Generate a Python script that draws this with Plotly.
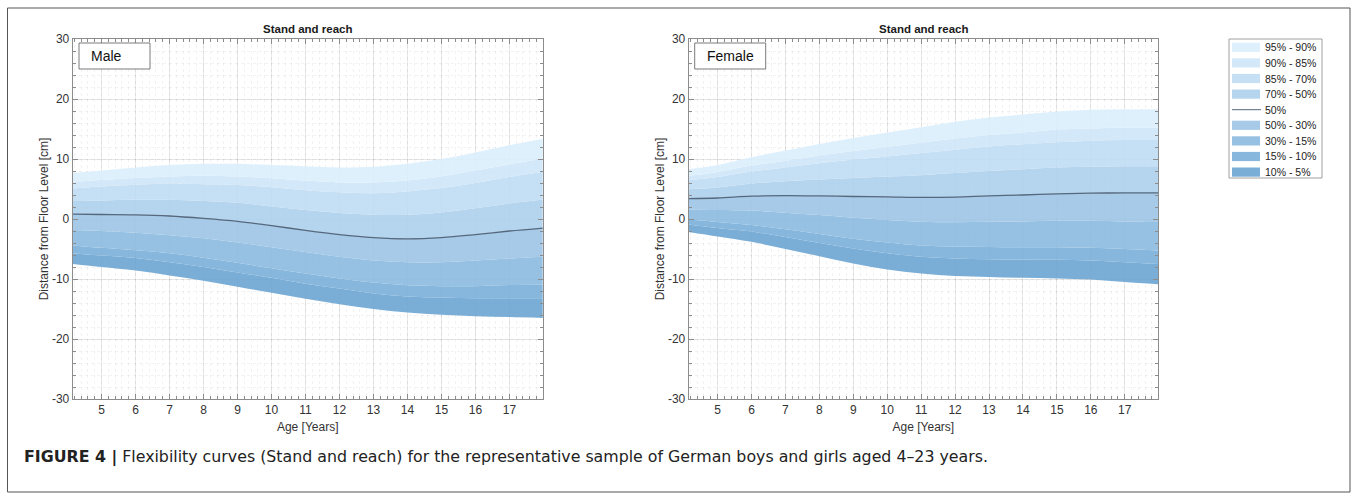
import plotly.graph_objects as go

# ---------------- data ----------------
ages = [4.15, 5, 6, 7, 8, 9, 10, 11, 12, 13, 14, 15, 16, 17, 18]

male_p5 = [-7.5, -8.0, -8.6, -9.4, -10.3, -11.3, -12.3, -13.3, -14.2, -15.0, -15.6, -15.95, -16.2, -16.35, -16.5]
male_p10 = [-5.7, -6.1, -6.5, -7.2, -8.0, -8.9, -9.8, -10.8, -11.6, -12.4, -12.9, -13.1, -13.2, -13.2, -13.2]
male_p15 = [-4.4, -4.8, -5.2, -5.7, -6.45, -7.3, -8.2, -9.1, -9.9, -10.6, -11.05, -11.2, -11.2, -11.0, -10.95]
male_p30 = [-1.85, -2.0, -2.3, -2.7, -3.2, -3.9, -4.7, -5.5, -6.3, -6.9, -7.2, -7.2, -6.9, -6.6, -6.3]
male_p50 = [0.8, 0.75, 0.7, 0.5, 0.1, -0.4, -1.1, -1.9, -2.6, -3.1, -3.3, -3.1, -2.6, -2.0, -1.5]
male_p70 = [3.0, 3.1, 3.2, 3.2, 3.0, 2.7, 2.1, 1.5, 1.0, 0.7, 0.7, 1.1, 1.8, 2.6, 3.25]
male_p85 = [5.1, 5.4, 5.7, 5.9, 5.8, 5.65, 5.3, 4.8, 4.45, 4.3, 4.6, 5.15, 6.0, 7.0, 7.9]
male_p90 = [6.2, 6.5, 6.85, 7.1, 7.2, 7.1, 6.8, 6.4, 6.1, 6.1, 6.4, 7.1, 8.1, 9.1, 10.1]
male_p95 = [7.7, 8.1, 8.6, 9.0, 9.2, 9.2, 9.0, 8.8, 8.6, 8.7, 9.2, 10.0, 11.1, 12.3, 13.4]

female_p5 = [-2.15, -2.9, -3.8, -5.0, -6.2, -7.4, -8.4, -9.1, -9.5, -9.65, -9.8, -9.9, -10.1, -10.5, -10.9]
female_p10 = [-0.9, -1.5, -2.1, -3.0, -4.0, -4.9, -5.7, -6.3, -6.6, -6.7, -6.75, -6.8, -6.9, -7.2, -7.5]
female_p15 = [-0.1, -0.5, -1.0, -1.7, -2.5, -3.3, -3.9, -4.4, -4.6, -4.65, -4.7, -4.7, -4.8, -5.0, -5.25]
female_p30 = [1.6, 1.5, 1.4, 1.05, 0.65, 0.2, -0.15, -0.45, -0.55, -0.45, -0.4, -0.3, -0.3, -0.4, -0.5]
female_p50 = [3.4, 3.5, 3.8, 3.9, 3.85, 3.75, 3.7, 3.6, 3.65, 3.85, 4.0, 4.2, 4.3, 4.35, 4.35]
female_p70 = [4.95, 5.25, 5.9, 6.3, 6.6, 6.85, 7.1, 7.3, 7.65, 8.0, 8.3, 8.6, 8.7, 8.8, 8.8]
female_p85 = [6.5, 7.0, 7.9, 8.6, 9.3, 9.9, 10.4, 11.0, 11.55, 12.1, 12.45, 12.8, 13.05, 13.15, 13.15]
female_p90 = [7.2, 7.8, 8.9, 9.7, 10.6, 11.35, 12.0, 12.7, 13.4, 14.0, 14.4, 14.9, 15.1, 15.2, 15.2]
female_p95 = [8.3, 9.0, 10.3, 11.4, 12.5, 13.5, 14.4, 15.3, 16.2, 16.9, 17.4, 17.9, 18.2, 18.3, 18.3]

x_tick_vals = [5, 6, 7, 8, 9, 10, 11, 12, 13, 14, 15, 16, 17]
y_tick_vals = [-30, -20, -10, 0, 10, 20, 30]
y_tick_text = ["-30", "-20", "-10", "0", "10", "20", "30"]

band_labels = ["10% - 5%", "15% - 10%", "30% - 15%", "50% - 30%",
               "70% - 50%", "85% - 70%", "90% - 85%", "95% - 90%"]
median_label = "50%"
panel_labels = ["Male", "Female"]
panel_title = "Stand and reach"
x_title = "Age [Years]"
y_title = "Distance from Floor Level [cm]"
caption_bold = "FIGURE 4 |"
caption_text = "Flexibility curves (Stand and reach) for the representative sample of German boys and girls aged 4–23 years."

# ---------------- styles ----------------
band_colors = [(122, 174, 215), (135, 183, 221), (151, 193, 227), (166, 202, 232),
               (181, 212, 238), (197, 223, 244), (211, 232, 249), (223, 240, 253)]
ALPHA = 0.9


def rgba(c, a=ALPHA):
    base = [max(0, round(255 - (255 - v) / a)) for v in c]
    return f"rgba({base[0]},{base[1]},{base[2]},{a})"


def solid(c):
    return f"rgb({c[0]},{c[1]},{c[2]})"


median_color = "rgb(85,104,124)"
FONT = "Liberation Sans, Arial, Helvetica, sans-serif"
CAP_FONT = "DejaVu Sans, Liberation Sans, sans-serif"
W, H = 1357, 500


def px(x):
    return x / W


def py(y):
    return 1 - y / H


fig = go.Figure()

panels = [
    ("x", "y", [male_p5, male_p10, male_p15, male_p30, male_p50, male_p70, male_p85, male_p90, male_p95]),
    ("x2", "y2", [female_p5, female_p10, female_p15, female_p30, female_p50, female_p70, female_p85, female_p90, female_p95]),
]

for xa, ya, curves in panels:
    fig.add_trace(go.Scatter(x=ages, y=curves[0], mode="lines", line=dict(width=0, shape="spline"),
                             xaxis=xa, yaxis=ya, showlegend=False, hoverinfo="skip"))
    for i in range(1, len(curves)):
        fig.add_trace(go.Scatter(x=ages, y=curves[i], mode="lines", fill="tonexty",
                                 fillcolor=rgba(band_colors[i - 1]),
                                 line=dict(width=0, shape="spline"),
                                 name=band_labels[i - 1], xaxis=xa, yaxis=ya,
                                 showlegend=False))
    fig.add_trace(go.Scatter(x=ages, y=curves[4], mode="lines",
                             line=dict(width=1.3, color=median_color, shape="spline"),
                             name=median_label, xaxis=xa, yaxis=ya, showlegend=False))

axis_col = "#8c8c8c"
txt_col = "#333333"
tick_font = dict(family=FONT, size=12, color=txt_col)
common = dict(showline=True, linecolor=axis_col, linewidth=1, mirror="allticks",
              ticks="inside", ticklen=5, tickcolor=axis_col, tickwidth=1,
              showgrid=True, gridcolor="rgba(0,0,0,0.085)", gridwidth=1, zeroline=False,
              tickfont=tick_font, automargin=False)

x_common = dict(common, range=[4.15, 17.98], tickmode="array", tickvals=x_tick_vals,
                minor=dict(ticks="inside", ticklen=3, tickcolor=axis_col, tickmode="linear",
                           tick0=5, dtick=0.2,
                           showgrid=True, gridcolor="rgba(0,0,0,0.05)", griddash="dot"),
                title=dict(text=x_title, font=dict(family=FONT, size=12, color=txt_col), standoff=6))
y_common = dict(common, range=[-30, 30], tickmode="array", tickvals=y_tick_vals, ticktext=y_tick_text,
                minor=dict(ticks="inside", ticklen=3, tickcolor=axis_col, tickmode="linear",
                           tick0=-30, dtick=2,
                           showgrid=True, gridcolor="rgba(0,0,0,0.05)", griddash="dot"),
                title=dict(text=y_title, font=dict(family=FONT, size=12, color=txt_col), standoff=0))

dom_left = [px(72.7), px(542.7)]
dom_right = [px(688.7), px(1158.0)]
dom_y = [py(399), py(39)]

fig.update_layout(
    width=W, height=H,
    margin=dict(l=0, r=0, t=0, b=0, pad=0, autoexpand=False),
    paper_bgcolor="white", plot_bgcolor="white",
    showlegend=False,
    xaxis=dict(x_common, domain=dom_left, anchor="y"),
    yaxis=dict(y_common, domain=dom_y, anchor="x"),
    xaxis2=dict(x_common, domain=dom_right, anchor="y2"),
    yaxis2=dict(y_common, domain=dom_y, anchor="x2"),
)

shapes = []
annotations = []

# panel titles and label boxes
for dom, label, box in [(dom_left, panel_labels[0], (79, 150)), (dom_right, panel_labels[1], (694.7, 765.7))]:
    annotations.append(dict(text=f"<b>{panel_title}</b>", x=(dom[0] + dom[1]) / 2, y=py(29),
                            xref="paper", yref="paper", showarrow=False,
                            font=dict(family=FONT, size=11.5, color="#1a1a1a"),
                            xanchor="center", yanchor="middle"))
    shapes.append(dict(type="rect", xref="paper", yref="paper", x0=px(box[0]), x1=px(box[1]),
                       y0=py(69), y1=py(43), line=dict(color="#7a7a7a", width=1), fillcolor="white"))
    annotations.append(dict(text=label, x=px(box[0] + 10), y=py(56), xref="paper", yref="paper",
                            showarrow=False, font=dict(family=FONT, size=14, color="#111111"),
                            xanchor="left", yanchor="middle"))

# legend box (drawn manually for compact MATLAB-like spacing)
lx0, lx1, ly0, ly1 = 1229, 1322, 39, 178
shapes.append(dict(type="rect", xref="paper", yref="paper", x0=px(lx0), x1=px(lx1),
                   y0=py(ly1), y1=py(ly0), line=dict(color="#a0a0a0", width=1), fillcolor="white"))
legend_items = [(band_labels[7], band_colors[7]), (band_labels[6], band_colors[6]),
                (band_labels[5], band_colors[5]), (band_labels[4], band_colors[4]),
                (median_label, None),
                (band_labels[3], band_colors[3]), (band_labels[2], band_colors[2]),
                (band_labels[1], band_colors[1]), (band_labels[0], band_colors[0])]
row0, step = 47.3, 15.6
for k, (lab, col) in enumerate(legend_items):
    yc = row0 + k * step
    if col is None:
        shapes.append(dict(type="line", xref="paper", yref="paper", x0=px(1232), x1=px(1261),
                           y0=py(yc), y1=py(yc), line=dict(color=median_color, width=1)))
    else:
        shapes.append(dict(type="rect", xref="paper", yref="paper", x0=px(1232), x1=px(1260),
                           y0=py(yc + 4.6), y1=py(yc - 4.6), line=dict(width=0), fillcolor=solid(col)))
    annotations.append(dict(text=lab, x=px(1263), y=py(yc), xref="paper", yref="paper",
                            showarrow=False, font=dict(family=FONT, size=10.5, color="#222222"),
                            xanchor="left", yanchor="middle"))

# outer frame and caption
shapes.append(dict(type="rect", xref="paper", yref="paper", x0=px(7.5), x1=px(1350),
                   y0=py(492), y1=py(8), line=dict(color="#555555", width=1)))
annotations.append(dict(text=f"<b>{caption_bold}</b> {caption_text}", x=px(22), y=py(457),
                        xref="paper", yref="paper", showarrow=False,
                        font=dict(family=CAP_FONT, size=15.8, color="#222222"),
                        xanchor="left", yanchor="middle"))

fig.update_layout(shapes=shapes, annotations=annotations)
fig.write_html("out.html", config={"displayModeBar": False},
               post_script="document.body.style.margin='0px';document.body.style.overflow='hidden';")
